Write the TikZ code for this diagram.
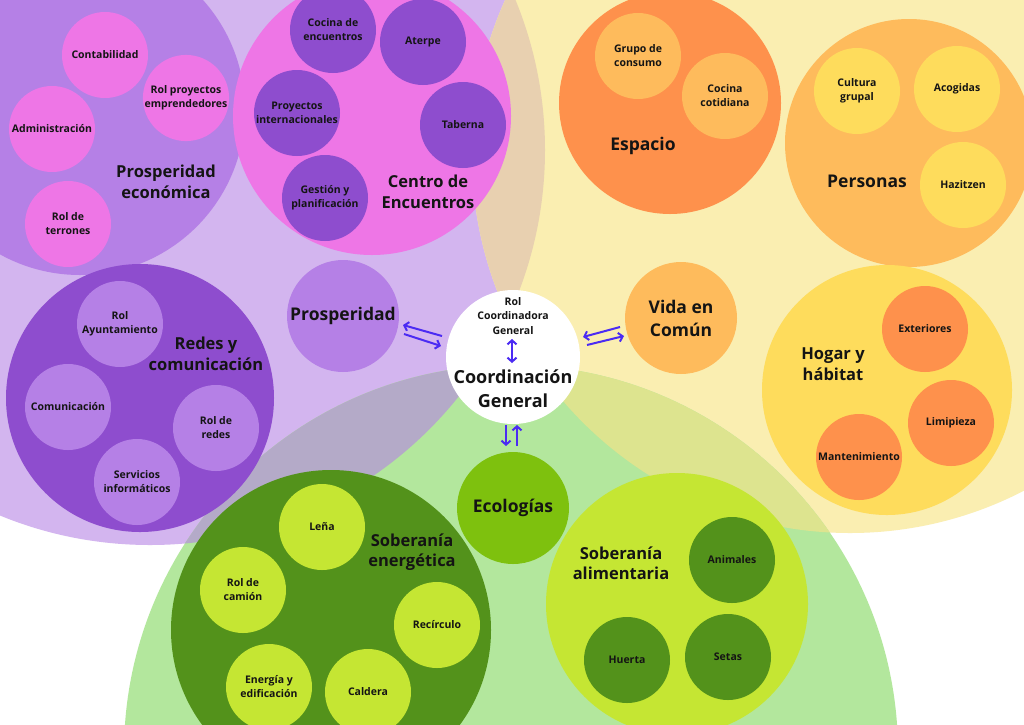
\documentclass[tikz,border=0pt]{standalone}
\usepackage{fontspec}
\setmainfont{Open Sans}
\usetikzlibrary{arrows.meta}
\definecolor{lav}{HTML}{D3B5EF}
\definecolor{lyel}{HTML}{FAEEB1}
\definecolor{lgreen}{HTML}{B3E79D}
\definecolor{tanc}{HTML}{E8D0B0}
\definecolor{grayc}{HTML}{B4AAC8}
\definecolor{olivec}{HTML}{DDE48F}
\definecolor{medp}{HTML}{B580E6}
\definecolor{darkp}{HTML}{8E4DCE}
\definecolor{pinkc}{HTML}{EE76E6}
\definecolor{orangec}{HTML}{FE914C}
\definecolor{lorange}{HTML}{FEBB5C}
\definecolor{yellowc}{HTML}{FEDC5C}
\definecolor{limec}{HTML}{C5E633}
\definecolor{dgreen}{HTML}{53921B}
\definecolor{mgreen}{HTML}{7EC10E}
\definecolor{arrowc}{HTML}{4B2BF3}
\definecolor{txt}{HTML}{141414}
\begin{document}
\begin{tikzpicture}[x=1pt,y=-1pt,
  sub/.style={circle, inner sep=0pt, minimum size=86pt, align=center, text=txt,
    font=\bfseries\fontsize{10.5}{14}\selectfont},
  big/.style={circle, inner sep=0pt, minimum size=#1, align=center, text=txt,
    font=\bfseries\fontsize{17.5}{23}\selectfont},
  head/.style={align=center, inner sep=0pt, text=txt,
    font=\bfseries\fontsize{16.5}{20.5}\selectfont},
  arr/.style={draw=arrowc, line width=2pt, -{Straight Barb[length=4pt,width=9pt]}},
  darr/.style={draw=arrowc, line width=2pt, {Straight Barb[length=4pt,width=9pt]}-{Straight Barb[length=4pt,width=9pt]}}
]
\useasboundingbox (0,0) rectangle (1024,724);
\clip (0,0) rectangle (1024,724);
\fill[white] (0,0) rectangle (1024,724);

% large background circles
\fill[lav] (150,150) circle (395pt);
\fill[lyel] (850,155) circle (378pt);
\fill[lgreen] (511,752) circle (387pt);
\begin{scope}
  \clip (150,150) circle (395pt);
  \fill[tanc] (850,155) circle (378pt);
  \fill[grayc] (511,752) circle (387pt);
\end{scope}
\begin{scope}
  \clip (850,155) circle (378pt);
  \fill[olivec] (511,752) circle (387pt);
\end{scope}

% Prosperidad economica
\node[circle, inner sep=0pt, minimum size=330pt, fill=medp] (pe) at (80,110) {};
\node[sub, fill=pinkc] (conta) at (105,55) {Contabilidad};
\node[sub, fill=pinkc] (rolpe) at (186,98) {Rol proyectos\\emprendedores};
\node[sub, fill=pinkc] (admin) at (52,129) {Administración};
\node[sub, fill=pinkc] (terr) at (68,224) {Rol de\\terrones};
\node[head] (pelab) at (166,182) {Prosperidad\\económica};

% Centro de Encuentros
\node[circle, inner sep=0pt, minimum size=278pt, fill=pinkc] (ce) at (372,116) {};
\node[sub, fill=darkp] (cocE) at (333,30) {Cocina de\\encuentros};
\node[sub, fill=darkp] (aterpe) at (423,42) {Aterpe};
\node[sub, fill=darkp] (proyI) at (297,113) {Proyectos\\internacionales};
\node[sub, fill=darkp] (taberna) at (463,125) {Taberna};
\node[sub, fill=darkp] (gestion) at (325,198) {Gestión y\\planificación};
\node[head] (celab) at (428,192) {Centro de\\Encuentros};

% Redes y comunicacion
\node[circle, inner sep=0pt, minimum size=268pt, fill=darkp] (redes) at (140,398) {};
\node[sub, fill=medp] (rolA) at (120,324) {Rol\\Ayuntamiento};
\node[sub, fill=medp] (comun) at (68,407) {Comunicación};
\node[sub, fill=medp] (rolR) at (216,428) {Rol de\\redes};
\node[sub, fill=medp] (serv) at (137,482) {Servicios\\informáticos};
\node[head] (redlab) at (206,354) {Redes y\\comunicación};

% Espacio
\node[circle, inner sep=0pt, minimum size=222pt, fill=orangec] (esp) at (670,103) {};
\node[sub, fill=lorange] (grupo) at (638,56) {Grupo de\\consumo};
\node[sub, fill=lorange] (cocC) at (725,96) {Cocina\\cotidiana};
\node[head, font=\bfseries\fontsize{17.5}{21}\selectfont] (esplab) at (643,146) {Espacio};

% Personas
\node[circle, inner sep=0pt, minimum size=248pt, fill=lorange] (pers) at (909,143) {};
\node[sub, fill=yellowc] (cult) at (857,91) {Cultura\\grupal};
\node[sub, fill=yellowc] (acog) at (957,89) {Acogidas};
\node[sub, fill=yellowc] (hazi) at (963,185) {Hazitzen};
\node[head, font=\bfseries\fontsize{17.5}{21}\selectfont] (perslab) at (867,181) {Personas};

% Hogar y habitat
\node[circle, inner sep=0pt, minimum size=250pt, fill=yellowc] (hogar) at (887,390) {};
\node[sub, fill=orangec] (ext) at (925,329) {Exteriores};
\node[sub, fill=orangec] (limp) at (951,423) {Limipieza};
\node[sub, fill=orangec] (mant) at (859,457) {Mantenimiento};
\node[head] (hoglab) at (833,364) {Hogar y\\hábitat};

% Soberania energetica
\node[circle, inner sep=0pt, minimum size=320pt, fill=dgreen] (energ) at (331,630) {};
\node[sub, fill=limec] (lena) at (322,527) {Leña};
\node[sub, fill=limec] (camion) at (243,590) {Rol de\\camión};
\node[sub, fill=limec] (reci) at (437,625) {Recírculo};
\node[sub, fill=limec] (energia) at (269,687) {Energía y\\edificación};
\node[sub, fill=limec] (caldera) at (368,692) {Caldera};
\node[head] (enlab) at (412,552) {Soberanía\\energética};

% Soberania alimentaria
\node[circle, inner sep=0pt, minimum size=262pt, fill=limec] (alim) at (677,604) {};
\node[sub, fill=dgreen] (anim) at (732,560) {Animales};
\node[sub, fill=dgreen] (huerta) at (627,660) {Huerta};
\node[sub, fill=dgreen] (setas) at (728,657) {Setas};
\node[head] (allab) at (621,563) {Soberanía\\alimentaria};

% central small circles
\node[big=112pt, fill=medp] (prosp) at (343,316) {Prosperidad};
\node[big=112pt, fill=lorange] (vida) at (681,318) {Vida en\\Común};
\node[big=112pt, fill=mgreen] (eco) at (513,508) {Ecologías};
\node[circle, inner sep=0pt, minimum size=134pt, fill=white] (coord) at (513,357) {};
\node[align=center, inner sep=0pt, text=txt, font=\bfseries\fontsize{10.5}{14.3}\selectfont] (rolcg) at (513,316) {Rol\\Coordinadora\\General};
\node[align=center, inner sep=0pt, text=txt, font=\bfseries\fontsize{18}{24}\selectfont] (cglab) at (513,389) {Coordinación\\General};

% arrows
\coordinate (L1a) at (442,336); \coordinate (L1b) at (403,325);
\coordinate (L2a) at (404,334); \coordinate (L2b) at (441,346);
\coordinate (R1a) at (620,327); \coordinate (R1b) at (583,337);
\coordinate (R2a) at (587,345); \coordinate (R2b) at (624,336);
\coordinate (Ca) at (512,339); \coordinate (Cb) at (512,363);
\coordinate (B1a) at (506,425); \coordinate (B1b) at (506,446);
\coordinate (B2a) at (517,446); \coordinate (B2b) at (517,425);
\draw[arr] (L1a) -- (L1b);
\draw[arr] (L2a) -- (L2b);
\draw[arr] (R1a) -- (R1b);
\draw[arr] (R2a) -- (R2b);
\draw[darr] (Ca) -- (Cb);
\draw[arr] (B1a) -- (B1b);
\draw[arr] (B2a) -- (B2b);
\end{tikzpicture}
\end{document}
